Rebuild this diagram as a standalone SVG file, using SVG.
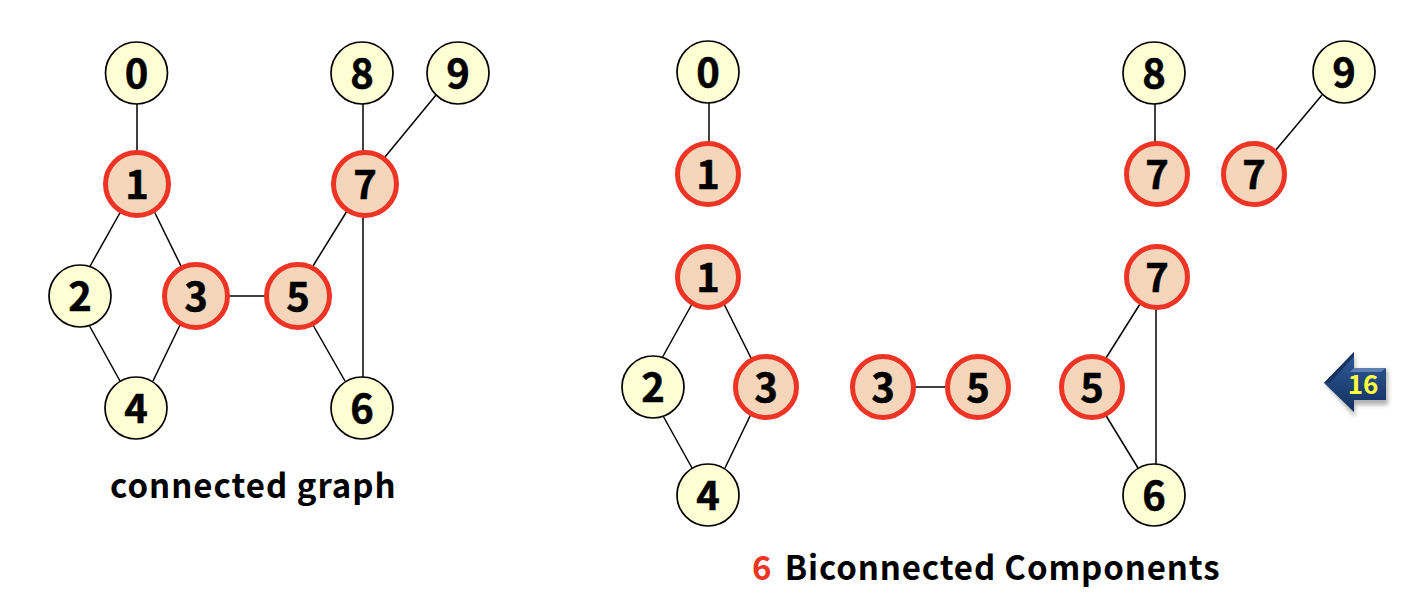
<svg xmlns="http://www.w3.org/2000/svg" width="1414" height="606" viewBox="0 0 1414 606">
<style>
.y circle{fill:#ffffd5;stroke:#000;stroke-width:1.7}
.r circle{fill:#f5d6bb;stroke:#ee3424;stroke-width:5}
text{font-family:"Noto Sans CJK KR","Open Sans",sans-serif;font-weight:700;fill:#000}
.n text{font-size:40px;text-anchor:middle;font-weight:700;stroke:#000;stroke-width:.5}
.l{font-size:33px;letter-spacing:1px}
#connectors line{stroke:#000;stroke-width:1.5}
</style>
<defs>
<linearGradient id="g" x1="0" y1="0" x2="0" y2="1"><stop offset="0" stop-color="#2f5c9a"/><stop offset="1" stop-color="#12305f"/></linearGradient>
<filter id="s" x="-20%" y="-20%" width="140%" height="140%"><feGaussianBlur stdDeviation="2"/></filter>
</defs>
<rect width="1414" height="606" fill="#fff"/>
<g id="connectors">
<line x1="137" y1="104" x2="137" y2="152"/>
<line x1="121" y1="211" x2="89" y2="268"/>
<line x1="154" y1="211" x2="181" y2="266"/>
<line x1="89" y1="325" x2="120" y2="381"/>
<line x1="181" y1="323" x2="153" y2="381"/>
<line x1="229" y1="296" x2="265" y2="296"/>
<line x1="363" y1="104" x2="363" y2="152"/>
<line x1="436" y1="95" x2="385" y2="157"/>
<line x1="347" y1="211" x2="313" y2="266"/>
<line x1="363" y1="216" x2="363" y2="377"/>
<line x1="313" y1="325" x2="345" y2="381"/>
<line x1="709" y1="103" x2="709" y2="142"/>
<line x1="1155" y1="104" x2="1155" y2="142"/>
<line x1="1322" y1="95" x2="1275" y2="151"/>
<line x1="692" y1="304" x2="662" y2="358"/>
<line x1="724" y1="304" x2="751" y2="358"/>
<line x1="662" y1="414" x2="692" y2="468"/>
<line x1="751" y1="414" x2="725" y2="468"/>
<line x1="915" y1="387" x2="945" y2="387"/>
<line x1="1140" y1="304" x2="1106" y2="358"/>
<line x1="1156" y1="308" x2="1156" y2="465"/>
<line x1="1105" y1="414" x2="1138" y2="468"/>
</g>
<g id="a0" class="n y"><circle cx="136.500" cy="73" r="31"/><text x="136.500" y="88">0</text></g>
<g id="a1" class="n r"><circle cx="137" cy="184" r="31.500"/><text x="137" y="199">1</text></g>
<g id="a2" class="n y"><circle cx="80" cy="296" r="31"/><text x="80" y="311">2</text></g>
<g id="a3" class="n r"><circle cx="196" cy="296" r="31.500"/><text x="196" y="311">3</text></g>
<g id="a4" class="n y"><circle cx="136" cy="408" r="31"/><text x="136" y="423">4</text></g>
<g id="a5" class="n r"><circle cx="298" cy="296" r="31.500"/><text x="298" y="311">5</text></g>
<g id="a6" class="n y"><circle cx="362" cy="408" r="31"/><text x="362" y="423">6</text></g>
<g id="a7" class="n r"><circle cx="365" cy="184" r="31.500"/><text x="365" y="199">7</text></g>
<g id="a8" class="n y"><circle cx="362" cy="73" r="31"/><text x="362" y="88">8</text></g>
<g id="a9" class="n y"><circle cx="458" cy="73" r="31"/><text x="458" y="88">9</text></g>
<text id="t1" class="l" x="110" y="498">connected graph</text>
<g id="b0" class="n y"><circle cx="708" cy="72" r="31"/><text x="708" y="87">0</text></g>
<g id="b1" class="n r"><circle cx="708" cy="174" r="30.500"/><text x="708" y="189">1</text></g>
<g id="b8" class="n y"><circle cx="1154" cy="73" r="31"/><text x="1154" y="88">8</text></g>
<g id="b7" class="n r"><circle cx="1157" cy="174" r="30.500"/><text x="1157" y="189">7</text></g>
<g id="b9" class="n y"><circle cx="1344" cy="72" r="31"/><text x="1344" y="87">9</text></g>
<g id="b7b" class="n r"><circle cx="1254" cy="174" r="30.500"/><text x="1254" y="189">7</text></g>
<g id="c1" class="n r"><circle cx="708" cy="277" r="30.500"/><text x="708" y="292">1</text></g>
<g id="c2" class="n y"><circle cx="653" cy="387" r="31"/><text x="653" y="402">2</text></g>
<g id="c3" class="n r"><circle cx="766" cy="387" r="30.500"/><text x="766" y="402">3</text></g>
<g id="c4" class="n y"><circle cx="708" cy="495" r="31"/><text x="708" y="510">4</text></g>
<g id="d3" class="n r"><circle cx="883" cy="387" r="30.500"/><text x="883" y="402">3</text></g>
<g id="d5" class="n r"><circle cx="978" cy="387" r="30.500"/><text x="978" y="402">5</text></g>
<g id="e7" class="n r"><circle cx="1157" cy="277" r="30.500"/><text x="1157" y="292">7</text></g>
<g id="e5" class="n r"><circle cx="1092" cy="387" r="30.500"/><text x="1092" y="402">5</text></g>
<g id="e6" class="n y"><circle cx="1154" cy="495" r="31"/><text x="1154" y="510">6</text></g>
<text id="t2" class="l" x="752" y="580" style="letter-spacing:.87px"><tspan fill="#ee3424">6</tspan><tspan dx="4"> Biconnected Components</tspan></text>
<g id="nav">
<path d="M1325 383L1354 353V368H1387V403H1354V415Z" fill="#555" opacity=".45" filter="url(#s)" transform="translate(1 2)"/>
<path d="M1324 383L1354 352V368H1386V400H1354V412Z" fill="url(#g)"/>
<path d="M1324 383L1354 352V356L1330 383Z" fill="#16325f"/>
<path d="M1354 368H1386L1381 372H1350Z" fill="#5d7fb2"/>
<text x="1363" y="394" font-size="26" text-anchor="middle" style="fill:#ffff3c">16</text>
</g>
</svg>
